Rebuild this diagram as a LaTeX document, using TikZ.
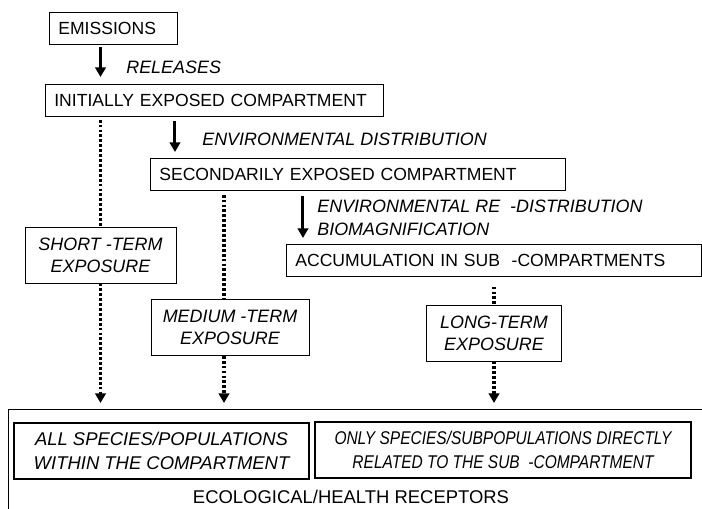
\documentclass[tikz,border=0pt]{standalone}
\usepackage{fontspec}
\usepackage{graphicx}
\setmainfont{Liberation Sans}
\usetikzlibrary{arrows.meta}

\begin{document}
\begin{tikzpicture}[x=0.02cm, y=-0.02cm, font=\fontsize{10}{12}\selectfont,
  box/.style={draw, inner xsep=0.18cm, inner ysep=0pt, minimum height=0.64cm, align=left, anchor=north west},
  expbox/.style={draw, minimum height=1.12cm, align=center, font=\fontsize{10.2}{12.5}\selectfont\itshape},
  recbox/.style={draw, line width=1.1pt, minimum height=1.12cm, align=center, font=\fontsize{10.5}{13.5}\selectfont\itshape},
  lbl/.style={anchor=west, inner sep=0pt, align=left, font=\fontsize{10.2}{12.9}\selectfont\itshape},
  flow/.style={line width=1.7pt, -{Triangle[width=6pt, length=5.5pt]}},
  dotline/.style={line width=1.8pt, dash pattern=on 1.6pt off 1.2pt},
  dotarrow/.style={dotline, -{Triangle[width=6pt, length=5.5pt]}, shorten >=0.12cm}]
  \useasboundingbox (0,0) rectangle (702,509);

  \node[box, text width=2.2cm] (emissions) at (49,12) {EMISSIONS};
  \node[box, text width=6.4cm] (initial) at (45,84) {INITIALLY EXPOSED COMPARTMENT};
  \node[box, text width=7.94cm] (secondary) at (150,158) {SECONDARILY EXPOSED COMPARTMENT};
  \node[box, text width=7.94cm] (accum) at (286,244) {ACCUMULATION IN SUB\ \ -COMPARTMENTS};

  \node[expbox, minimum width=3.02cm] (short) at (100.5,255) {SHORT -TERM\\EXPOSURE};
  \node[expbox, minimum width=3.16cm] (medium) at (230,327.5) {MEDIUM -TERM\\EXPOSURE};
  \node[expbox, minimum width=2.7cm] (long) at (494,333) {LONG-TERM\\EXPOSURE};

  \node[draw, anchor=north west, minimum width=14.5cm, minimum height=2.5cm] (receptors) at (8,409) {};
  \node[recbox, minimum width=5.9cm] (allspecies) at (161.5,451) {ALL SPECIES/POPULATIONS\\WITHIN THE COMPARTMENT};
  \node[recbox, minimum width=7.52cm] (onlyspecies) at (503,450) {\scalebox{0.84}[1]{ONLY SPECIES/SUBPOPULATIONS DIRECTLY}\\\scalebox{0.84}[1]{RELATED TO THE SUB\ \ -COMPARTMENT}};
  \node[font=\fontsize{10.5}{12}\selectfont] (receptorslabel) at (351,497) {ECOLOGICAL/HEALTH RECEPTORS};

  \node[lbl] (releases) at (126,67) {RELEASES};
  \node[lbl] (distribution) at (202,139) {ENVIRONMENTAL DISTRIBUTION};
  \node[lbl] (redistribution) at (317,218) {ENVIRONMENTAL RE\ \ -DISTRIBUTION\\BIOMAGNIFICATION};

  \draw[flow, shorten <=0.05cm, shorten >=0.14cm] (emissions.south -| short.north) -- (initial.north -| short.north);
  \draw[flow, shorten <=0.09cm, shorten >=0.12cm] ([xshift=2.6cm]initial.south west) -- ([xshift=2.6cm]initial.south west |- secondary.north);
  \draw[flow, shorten <=0.1cm, shorten >=0.12cm] ([xshift=3.06cm]secondary.south west) -- ([xshift=3.06cm]secondary.south west |- accum.north);

  \draw[dotline, shorten <=0.06cm] (initial.south -| short.north) -- (short.north);
  \draw[dotarrow] (short.south) -- (short.south |- receptors.north);
  \draw[dotline, shorten <=0.08cm] ([xshift=-0.12cm]medium.north |- secondary.south) -- ([xshift=-0.12cm]medium.north);
  \draw[dotarrow] ([xshift=-0.12cm]medium.south) -- ([xshift=-0.12cm]medium.south |- receptors.north);
  \draw[dotline] ([yshift=0.36cm]long.north) -- (long.north);
  \draw[dotarrow] (long.south) -- (long.south |- receptors.north);
\end{tikzpicture}
\end{document}
